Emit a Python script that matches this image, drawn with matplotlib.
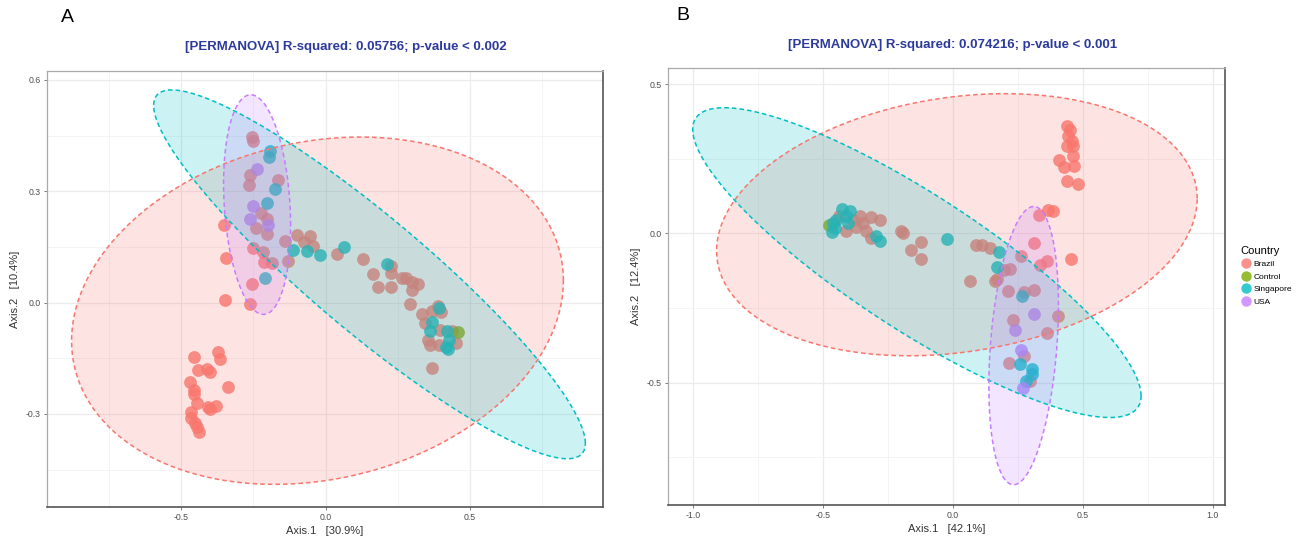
import numpy as np
import matplotlib
matplotlib.use("Agg")
import matplotlib.pyplot as plt
from matplotlib.lines import Line2D

plt.rcParams['font.family'] = ['Liberation Sans', 'DejaVu Sans']

# ---- colours (ggplot default hues)
col_brazil = '#F8766D'
col_control = '#7CAE00'
col_singapore = '#00BFC4'
col_usa = '#C77CFF'

# ---- panel A points (Axis.1, Axis.2)
brazil_a_x = [-0.254, -0.252, -0.263, -0.266, -0.166, -0.222, -0.204, -0.242, -0.204, -0.142,
              -0.098, -0.054, -0.075, -0.044, -0.250, -0.218, -0.213, -0.187, -0.129, 0.038,
              -0.352, -0.346, -0.254, -0.349, -0.260,
              -0.456, -0.373, -0.367, -0.440, -0.412, -0.400, -0.470, -0.339, -0.456, -0.456,
              -0.446, -0.407, -0.400, -0.378, -0.467, -0.464, -0.452, -0.446, -0.438,
              0.130, 0.164, 0.225, 0.228, 0.182, 0.228, 0.263, 0.277, 0.298, 0.321,
              0.298, 0.291, 0.335, 0.369, 0.390, 0.401, 0.343, 0.395, 0.354, 0.363,
              0.392, 0.438, 0.450, 0.369]
brazil_a_y = [0.445, 0.436, 0.343, 0.316, 0.330, 0.242, 0.224, 0.200, 0.186, 0.166,
              0.182, 0.179, 0.164, 0.152, 0.148, 0.137, 0.110, 0.107, 0.112, 0.132,
              0.209, 0.121, 0.051, 0.008, -0.003,
              -0.147, -0.132, -0.151, -0.181, -0.179, -0.187, -0.214, -0.227, -0.237, -0.246,
              -0.271, -0.282, -0.287, -0.280, -0.294, -0.312, -0.324, -0.336, -0.348,
              0.118, 0.078, 0.098, 0.080, 0.042, 0.042, 0.065, 0.065, 0.056, 0.051,
              0.035, -0.003, -0.031, -0.022, -0.008, -0.026, -0.055, -0.073, -0.100, -0.114,
              -0.114, -0.078, -0.109, -0.176]
control_a_x = [0.457]
control_a_y = [-0.080]
singapore_a_x = [-0.193, -0.196, -0.176, -0.204, -0.112, -0.063, -0.020, 0.063, -0.208, 0.213,
                 0.393, 0.369, 0.360, 0.419, 0.427, 0.415, 0.423]
singapore_a_y = [0.409, 0.391, 0.305, 0.269, 0.141, 0.139, 0.128, 0.151, 0.065, 0.105,
                 -0.014, -0.053, -0.078, -0.078, -0.100, -0.120, -0.125]
usa_a_x = [-0.236, -0.252, -0.260, -0.200]
usa_a_y = [0.359, 0.260, 0.224, 0.209]

# ---- panel B points
brazil_b_x = [-0.359, -0.314, -0.282, -0.347, -0.372, -0.411, -0.334, -0.314, -0.199, -0.193,
              -0.122, -0.160, -0.124, -0.437, -0.385,
              0.440, 0.450, 0.443, 0.457, 0.440, 0.463, 0.460, 0.408, 0.427, 0.465,
              0.440, 0.482, 0.366, 0.386, 0.332, 0.090, 0.110, 0.142, 0.311, 0.261,
              0.360, 0.334, 0.453, 0.219, 0.197, 0.067, 0.161, 0.171, 0.212, 0.273,
              0.312, 0.231, 0.405, 0.360, 0.273, 0.216, 0.296]
brazil_b_y = [0.057, 0.055, 0.046, 0.035, 0.023, 0.007, 0.007, -0.015, 0.007, 0.001,
              -0.029, -0.055, -0.085, 0.057, 0.046,
              0.359, 0.345, 0.325, 0.308, 0.292, 0.292, 0.258, 0.245, 0.223, 0.225,
              0.177, 0.167, 0.079, 0.074, 0.063, -0.038, -0.038, -0.049, -0.032, -0.077,
              -0.094, -0.105, -0.085, -0.119, -0.122, -0.161, -0.158, -0.153, -0.194, -0.198,
              -0.189, -0.289, -0.276, -0.334, -0.412, -0.434, -0.493]
control_b_x = [-0.478]
control_b_y = [0.029]
singapore_b_x = [-0.426, -0.398, -0.411, -0.449, -0.462, -0.456, -0.465, -0.405, -0.295, -0.280,
                 -0.023, 0.177, 0.171, 0.264, 0.258, 0.306, 0.304, 0.280]
singapore_b_y = [0.082, 0.074, 0.057, 0.046, 0.035, 0.018, 0.005, 0.035, -0.010, -0.027,
                 -0.019, -0.064, -0.111, -0.209, -0.437, -0.454, -0.470, -0.493]
usa_b_x = [0.311, 0.239, 0.260, 0.270]
usa_b_y = [-0.269, -0.325, -0.390, -0.518]

# ---- ellipses: centre, half-extent in x and y, correlation
ell_a_groups = ['Brazil', 'Singapore', 'USA']
ell_a_cx = [-0.028, 0.152, -0.237]
ell_a_cy = [-0.022, 0.076, 0.264]
ell_a_sx = [0.851, 0.747, 0.116]
ell_a_sy = [0.468, 0.497, 0.296]
ell_a_rho = [0.174, -0.916, -0.19]

ell_b_groups = ['Brazil', 'Singapore', 'USA']
ell_b_cx = [0.015, -0.139, 0.272]
ell_b_cy = [0.029, -0.098, -0.376]
ell_b_sx = [0.925, 0.863, 0.134]
ell_b_sy = [0.439, 0.519, 0.466]
ell_b_rho = [0.2, -0.86, 0.29]

colors = {'Brazil': col_brazil, 'Control': col_control,
          'Singapore': col_singapore, 'USA': col_usa}


def draw_panel(ax, pts, ells, xlim, ylim, xticks, yticks, xlab, ylab):
    for name, xs, ys in pts:
        ax.scatter(xs, ys, s=85, color=colors[name], alpha=0.8,
                   linewidths=0, zorder=2)
    t = np.linspace(0, 2 * np.pi, 300)
    for name, cx, cy, sx, sy, rho in zip(*ells):
        ex = cx + sx * np.cos(t)
        ey = cy + sy * (rho * np.cos(t) + np.sqrt(1 - rho ** 2) * np.sin(t))
        ax.fill(ex, ey, color=colors[name], alpha=0.2, lw=0, zorder=3)
        ax.plot(ex, ey, color=colors[name], lw=1.1, ls=(0, (3, 2)), zorder=4)
    ax.set_xticks(xticks)
    ax.set_yticks(yticks)
    dx = xticks[1] - xticks[0]
    dy = yticks[1] - yticks[0]
    ax.set_xticks([v + dx / 2 for v in [xticks[0] - dx] + list(xticks)], minor=True)
    ax.set_yticks([v + dy / 2 for v in [yticks[0] - dy] + list(yticks)], minor=True)
    ax.set_xlim(xlim)
    ax.set_ylim(ylim)
    ax.set_xticklabels([f'{v:.1f}' for v in xticks])
    ax.set_yticklabels([f'{v:.1f}' for v in yticks])
    ax.grid(which='major', color='#ebebeb', lw=0.9, zorder=0)
    ax.grid(which='minor', color='#f3f3f3', lw=0.6, zorder=0)
    ax.set_axisbelow(True)
    ax.tick_params(which='major', labelsize=6.3, colors='#666666', length=2.5, width=0.6, pad=2,
                   labelcolor='#4d4d4d')
    ax.tick_params(which='minor', length=0)
    for side in ['top', 'left']:
        ax.spines[side].set_color('#aaaaaa')
        ax.spines[side].set_linewidth(0.9)
    for side in ['bottom', 'right']:
        ax.spines[side].set_color('#555555')
        ax.spines[side].set_linewidth(1.2)
    ax.set_xlabel(xlab, fontsize=8, color='#333333', labelpad=3)
    ax.set_ylabel(ylab, fontsize=8, color='#333333', labelpad=4)


fig = plt.figure(figsize=(13.15, 5.38), dpi=100)
ax1 = fig.add_axes([47 / 1315, 1 - 507 / 538, 556 / 1315, 436 / 538])
ax2 = fig.add_axes([668 / 1315, 1 - 505 / 538, 557 / 1315, 437 / 538])

draw_panel(ax1,
           [('Brazil', brazil_a_x, brazil_a_y), ('Control', control_a_x, control_a_y),
            ('Singapore', singapore_a_x, singapore_a_y), ('USA', usa_a_x, usa_a_y)],
           (ell_a_groups, ell_a_cx, ell_a_cy, ell_a_sx, ell_a_sy, ell_a_rho),
           (-0.964, 0.960), (-0.551, 0.624), [-0.5, 0.0, 0.5], [-0.3, 0.0, 0.3, 0.6],
           'Axis.1   [30.9%]', 'Axis.2   [10.4%]')
draw_panel(ax2,
           [('Brazil', brazil_b_x, brazil_b_y), ('Control', control_b_x, control_b_y),
            ('Singapore', singapore_b_x, singapore_b_y), ('USA', usa_b_x, usa_b_y)],
           (ell_b_groups, ell_b_cx, ell_b_cy, ell_b_sx, ell_b_sy, ell_b_rho),
           (-1.097, 1.047), (-0.91, 0.554), [-1.0, -0.5, 0.0, 0.5, 1.0], [-0.5, 0.0, 0.5],
           'Axis.1   [42.1%]', 'Axis.2   [12.4%]')

title_col = '#2b3a9b'
fig.text(346 / 1315, 1 - 47 / 538, '[PERMANOVA] R-squared: 0.05756; p-value < 0.002',
         ha='center', va='center', fontsize=9.5, fontweight='bold', color=title_col)
fig.text(953 / 1315, 1 - 45 / 538, '[PERMANOVA] R-squared: 0.074216; p-value < 0.001',
         ha='center', va='center', fontsize=9.5, fontweight='bold', color=title_col)
fig.text(67 / 1315, 1 - 18 / 538, 'A', ha='center', va='center', fontsize=14)
fig.text(683 / 1315, 1 - 15 / 538, 'B', ha='center', va='center', fontsize=14)

handles = [Line2D([], [], ls='', marker='o', ms=7.5, color=colors[n], alpha=0.8, mew=0, label=n)
           for n in ['Brazil', 'Control', 'Singapore', 'USA']]
leg = fig.legend(handles=handles, title='Country', loc='upper left',
                 bbox_to_anchor=(1235 / 1315, 1 - 240 / 538), frameon=False,
                 fontsize=6, title_fontsize=8, handletextpad=0.3, labelspacing=0.55,
                 borderpad=0.2, handlelength=1.2)
leg._legend_box.align = 'left'

fig.savefig('out.png', dpi=100)
